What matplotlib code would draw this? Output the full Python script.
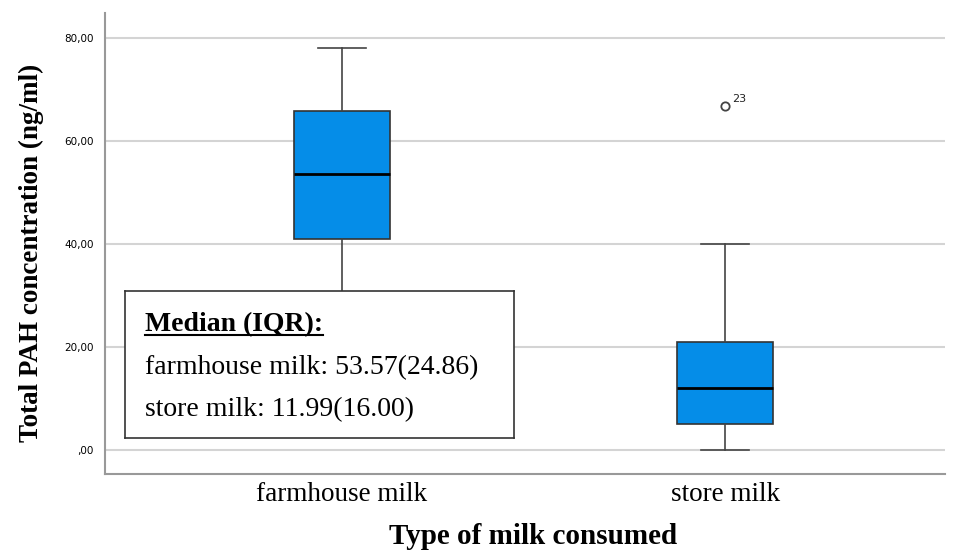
import matplotlib.pyplot as plt

groups = ['farmhouse milk', 'store milk']
medians = [53.57, 11.99]
q1 = [41.0, 5.0]
q3 = [65.86, 21.0]
whisker_low = [22.0, 0.0]
whisker_high = [78.2, 40.0]
outliers = [[], [66.8]]
outlier_ids = [[], ['23']]

yticks = [0, 20, 40, 60, 80]
ytick_labels = [',00', '20,00', '40,00', '60,00', '80,00']

fig = plt.figure(figsize=(9.55, 5.51), dpi=100)
ax = fig.add_axes([0.110, 0.140, 0.880, 0.836])

stats = []
for i in range(len(groups)):
    stats.append({'med': medians[i], 'q1': q1[i], 'q3': q3[i],
                  'whislo': whisker_low[i], 'whishi': whisker_high[i],
                  'fliers': outliers[i], 'label': groups[i]})

pos = [1, 2]
ax.bxp(stats, positions=pos, widths=0.25, patch_artist=True, showfliers=True,
       boxprops=dict(facecolor='#058de8', edgecolor='#333333', linewidth=1.2),
       medianprops=dict(color='black', linewidth=2),
       whiskerprops=dict(color='#444444', linewidth=1.2),
       capprops=dict(color='#444444', linewidth=1.2),
       capwidths=0.125,
       flierprops=dict(marker='o', markersize=6, markerfacecolor='white',
                       markeredgecolor='#444444', markeredgewidth=1.3),
       zorder=3)

for i in range(len(groups)):
    for v, lab in zip(outliers[i], outlier_ids[i]):
        ax.annotate(lab, (pos[i], v), xytext=(5, 3), textcoords='offset points',
                    fontsize=8, family='DejaVu Sans', color='#222222')

ax.set_xlim(0.382, 2.575)
ax.set_ylim(-4.66, 84.9)
ax.set_yticks(yticks)
ax.set_yticklabels(ytick_labels, fontsize=7.5, family='DejaVu Sans')
ax.yaxis.grid(True, color='#d4d4d4', linewidth=1.5, zorder=0)
ax.set_axisbelow(True)
ax.tick_params(axis='y', length=0, pad=8)
ax.tick_params(axis='x', length=0, pad=6)
ax.set_xticks(pos)
ax.set_xticklabels(groups, fontsize=19.5, family='Liberation Serif')

for s in ['top', 'right']:
    ax.spines[s].set_visible(False)
for s in ['left', 'bottom']:
    ax.spines[s].set_color('#999999')
    ax.spines[s].set_linewidth(1.5)

ax.set_ylabel('Total PAH concentration (ng/ml)', fontsize=19.5, fontweight='bold',
              family='Liberation Serif', va='center')
ax.yaxis.set_label_coords((31 - 105) / 840, (474 - 253) / 461)
ax.set_xlabel('Type of milk consumed', fontsize=21, fontweight='bold',
              family='Liberation Serif', va='center')
ax.xaxis.set_label_coords((533 - 105) / 840, (474 - 537) / 461)

# summary box with medians and IQRs
box_ax = fig.add_axes([125 / 955, 1 - 438 / 551, 389 / 955, 147 / 551])
box_ax.set_xticks([])
box_ax.set_yticks([])
for s in box_ax.spines.values():
    s.set_color('#333333')
    s.set_linewidth(1.2)
box_ax.set_zorder(5)

head = box_ax.text(0.052, 0.77, 'Median (IQR):', fontsize=20, fontweight='bold',
                   family='Liberation Serif', va='center', transform=box_ax.transAxes)
for k, g in enumerate(groups):
    iqr = q3[k] - q1[k]
    box_ax.text(0.052, 0.48 - 0.285 * k, f'{g}: {medians[k]:.2f}({iqr:.2f})',
                fontsize=20, family='Liberation Serif', va='center',
                transform=box_ax.transAxes)

fig.canvas.draw()
bb = head.get_window_extent().transformed(box_ax.transAxes.inverted())
box_ax.plot([bb.x0, bb.x1], [bb.y0 + 0.015, bb.y0 + 0.015], color='black',
            linewidth=1.5, transform=box_ax.transAxes)

fig.savefig('out.png', dpi=100)
